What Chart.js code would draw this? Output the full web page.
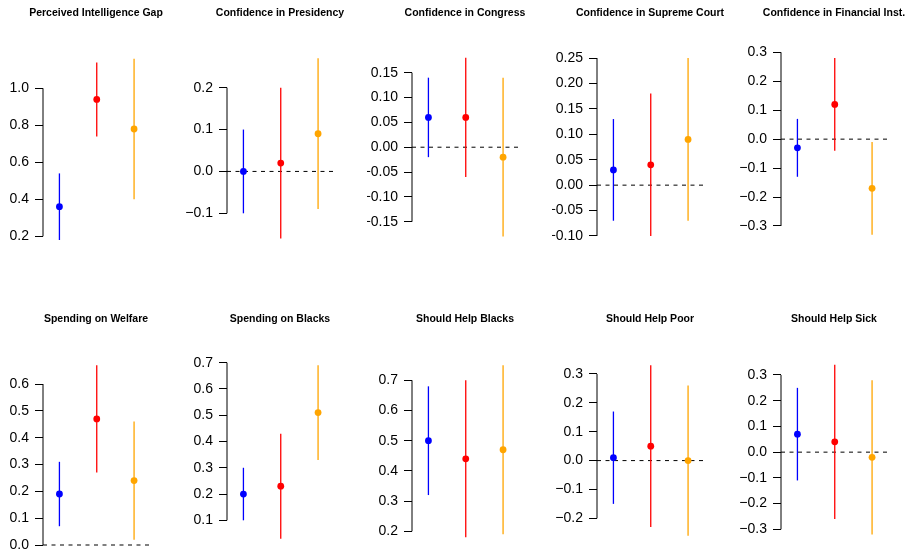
<!DOCTYPE html>
<html>
<head>
<meta charset="utf-8">
<script src="https://cdn.jsdelivr.net/npm/chart.js@4.4.0/dist/chart.umd.min.js"></script>
<style>
  html, body { margin: 0; padding: 0; background: #fff; }
  #wrap { position: relative; width: 909px; height: 550px; overflow: hidden; background: #fff; }
  #wrap canvas { position: absolute; }
</style>
</head>
<body>
<div id="wrap"></div>
<script>
// panel titles, row by row
const panelTitles = [
  "Perceived Intelligence Gap", "Confidence in Presidency", "Confidence in Congress",
  "Confidence in Supreme Court", "Confidence in Financial Inst.",
  "Spending on Welfare", "Spending on Blacks", "Should Help Blacks",
  "Should Help Poor", "Should Help Sick"
];

// point estimates for the three groups (blue, red, orange)
const estimates = [
  [0.36, 0.94, 0.78], [0.00, 0.02, 0.09], [0.06, 0.06, -0.02], [0.03, 0.04, 0.09], [-0.03, 0.12, -0.17],
  [0.19, 0.47, 0.24], [0.20, 0.23, 0.51], [0.50, 0.44, 0.47], [0.01, 0.05, 0.00], [0.07, 0.04, -0.02]
];
const lowerCI = [
  [0.18, 0.74, 0.40], [-0.10, -0.16, -0.09], [-0.02, -0.06, -0.18], [-0.07, -0.10, -0.07], [-0.13, -0.04, -0.33],
  [0.07, 0.27, 0.02], [0.10, 0.03, 0.33], [0.32, 0.18, 0.19], [-0.15, -0.23, -0.26], [-0.11, -0.26, -0.32]
];
const upperCI = [
  [0.54, 1.14, 1.16], [0.10, 0.20, 0.27], [0.14, 0.18, 0.14], [0.13, 0.18, 0.25], [0.07, 0.28, -0.01],
  [0.31, 0.67, 0.46], [0.30, 0.43, 0.69], [0.68, 0.70, 0.75], [0.17, 0.33, 0.26], [0.25, 0.34, 0.28]
];

// y tick values per panel
const yTicks = [
  [0.2, 0.4, 0.6, 0.8, 1.0],
  [-0.1, 0.0, 0.1, 0.2],
  [-0.15, -0.10, -0.05, 0.00, 0.05, 0.10, 0.15],
  [-0.10, -0.05, 0.00, 0.05, 0.10, 0.15, 0.20, 0.25],
  [-0.3, -0.2, -0.1, 0.0, 0.1, 0.2, 0.3],
  [0.0, 0.1, 0.2, 0.3, 0.4, 0.5, 0.6],
  [0.1, 0.2, 0.3, 0.4, 0.5, 0.6, 0.7],
  [0.2, 0.3, 0.4, 0.5, 0.6, 0.7],
  [-0.2, -0.1, 0.0, 0.1, 0.2, 0.3],
  [-0.3, -0.2, -0.1, 0.0, 0.1, 0.2, 0.3]
];
const tickDecimals = [1, 1, 2, 2, 1, 1, 1, 1, 1, 1];

// y axis range per panel
const yRanges = [
  [0.153, 1.2016], [-0.1757, 0.2876], [-0.1969, 0.1937], [-0.1177, 0.2638], [-0.3657, 0.3045],
  [-0.0037, 0.6969], [0.0022, 0.7179], [0.1513, 0.7738], [-0.2959, 0.3554], [-0.3649, 0.3661]
];

const groupColors = ["#0000FF", "#FF0000", "#FFA500"];
const groupX = [1, 2, 3];

Chart.defaults.font.family = "'Liberation Sans', Arial, Helvetica, sans-serif";

// layout of the 2 x 5 grid
const axisLeft = [43, 227, 412, 597, 781];
const rowTop = [0, 306];
const rowTitlePad = [[6.7, 31.7], [7.0, 32.4]];
const rowBottomPad = [30, 35];
const AXIS_W = 45;
const PLOT_W = 106;
const CANVAS_W = AXIS_W * 2 + PLOT_W;
const CANVAS_H = 275;

function fmtTick(v, d) {
  const s = Math.abs(v).toFixed(d);
  return (v < -1e-9 ? "\u2212" : "") + s;
}

// y axis line only between first and last tick, like R's axis()
const axisLinePlugin = {
  id: "axisLine",
  afterDraw(chart) {
    const ys = chart.scales.y;
    const t = ys.ticks;
    if (!t.length) return;
    const ctx = chart.ctx;
    const x = chart.chartArea.left;
    ctx.save();
    ctx.strokeStyle = "#000";
    ctx.lineWidth = 1;
    ctx.beginPath();
    ctx.moveTo(x, ys.getPixelForValue(t[0].value));
    ctx.lineTo(x, ys.getPixelForValue(t[t.length - 1].value));
    ctx.stroke();
    ctx.restore();
  }
};

const wrap = document.getElementById("wrap");

panelTitles.forEach((title, i) => {
  const row = Math.floor(i / 5);
  const col = i % 5;
  const canvas = document.createElement("canvas");
  canvas.width = CANVAS_W;
  canvas.height = CANVAS_H;
  canvas.style.left = (axisLeft[col] - AXIS_W) + "px";
  canvas.style.top = rowTop[row] + "px";
  wrap.appendChild(canvas);

  const xMin = 0.56, xMax = 3.40;

  const datasets = [];
  // points
  datasets.push({
    data: groupX.map((x, g) => ({ x: x, y: estimates[i][g] })),
    pointRadius: 3.4,
    pointBackgroundColor: groupColors,
    pointBorderWidth: 0,
    showLine: false
  });
  // interval lines
  groupX.forEach((x, g) => {
    datasets.push({
      data: [{ x: x, y: lowerCI[i][g] }, { x: x, y: upperCI[i][g] }],
      borderColor: groupColors[g],
      borderWidth: 1.3,
      pointRadius: 0,
      showLine: true
    });
  });
  // dashed reference line at zero
  datasets.push({
    data: [{ x: xMin, y: 0 }, { x: xMax, y: 0 }],
    borderColor: "#000",
    borderWidth: 1,
    borderDash: [4, 4.5],
    pointRadius: 0,
    showLine: true
  });

  new Chart(canvas.getContext("2d"), {
    type: "scatter",
    data: { datasets: datasets },
    options: {
      responsive: false,
      animation: false,
      devicePixelRatio: 1,
      layout: { padding: { top: 0, left: 0, right: 0, bottom: rowBottomPad[row] } },
      plugins: {
        legend: { display: false },
        tooltip: { enabled: false },
        title: {
          display: true,
          text: title,
          color: "#000",
          font: { size: 10.5, weight: "bold" },
          padding: { top: rowTitlePad[row][0], bottom: rowTitlePad[row][1] }
        }
      },
      scales: {
        x: { type: "linear", display: false, min: xMin, max: xMax },
        y: {
          type: "linear",
          min: yRanges[i][0],
          max: yRanges[i][1],
          afterBuildTicks: (ax) => { ax.ticks = yTicks[i].map(v => ({ value: v })); },
          afterFit: (ax) => { ax.width = AXIS_W; },
          border: { display: false },
          grid: { drawOnChartArea: false, drawTicks: true, tickLength: 8, color: "#000" },
          ticks: {
            autoSkip: false,
            padding: 6,
            color: "#000",
            font: { size: 14 },
            callback: (v) => fmtTick(v, tickDecimals[i])
          }
        },
        // empty right-hand spacer so the title centres over the plot region
        yRight: {
          type: "linear",
          position: "right",
          display: true,
          afterFit: (ax) => { ax.width = AXIS_W; },
          border: { display: false },
          grid: { display: false },
          ticks: { display: false }
        }
      }
    },
    plugins: [axisLinePlugin]
  });
});
</script>
</body>
</html>
